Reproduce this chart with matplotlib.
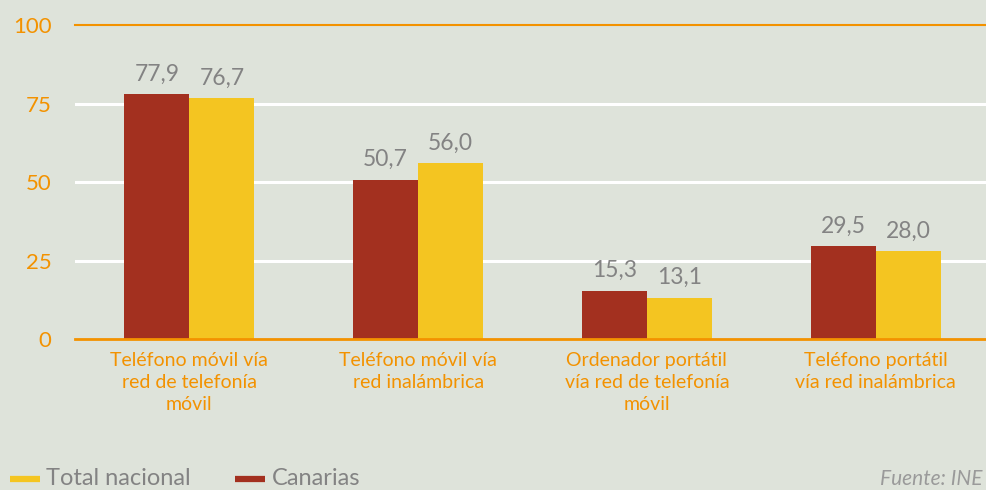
import matplotlib
matplotlib.use("Agg")
import matplotlib.pyplot as plt
from matplotlib.lines import Line2D
import numpy as np

categories = ["Teléfono móvil vía\nred de telefonía\nmóvil",
              "Teléfono móvil vía\nred inalámbrica",
              "Ordenador portátil\nvía red de telefonía\nmóvil",
              "Teléfono portátil\nvía red inalámbrica"]
canarias = [77.9, 50.7, 15.3, 29.5]
total_nacional = [76.7, 56.0, 13.1, 28.0]
yticks = [0, 25, 50, 75, 100]
series_names = ["Total nacional", "Canarias"]

BG = "#DEE3DA"
RED = "#A3301F"
YEL = "#F4C521"
ORANGE = "#F39200"
GRAY = "#838383"

plt.rcParams['font.family'] = ['Lato', 'DejaVu Sans']

fig = plt.figure(figsize=(9.86, 4.9), dpi=100, facecolor=BG)
ax = fig.add_axes([0.0761, 0.308, 0.928, 0.641], facecolor=BG)

x = np.arange(len(categories))
w = 0.284
b1 = ax.bar(x - w/2, canarias, w, color=RED, zorder=3)
b2 = ax.bar(x + w/2, total_nacional, w, color=YEL, zorder=3)

for bars, vals in ((b1, canarias), (b2, total_nacional)):
    for r, v in zip(bars, vals):
        ax.annotate(f"{v:.1f}".replace(".", ","),
                    (r.get_x() + r.get_width()/2, r.get_height()),
                    xytext=(0, 7), textcoords="offset points",
                    ha="center", va="bottom", color=GRAY, fontsize=16.5)

ax.set_xlim(-0.5, len(categories) - 0.5)
ax.set_ylim(0, 100)
ax.set_yticks(yticks)
ax.set_yticklabels([str(t) for t in yticks], color=ORANGE, fontsize=16)
ax.set_xticks(x)
ax.set_xticklabels(categories, color=ORANGE, fontsize=14, linespacing=1.38)
ax.tick_params(length=0)
ax.tick_params(axis='x', pad=9)
ax.tick_params(axis='y', pad=17)

for s in ax.spines.values():
    s.set_visible(False)
for t in yticks[1:-1]:
    ax.axhline(t, color="white", lw=2.2, zorder=1)
ax.axhline(100, color=ORANGE, lw=1.5, zorder=1, clip_on=False)
ax.axhline(0, color=ORANGE, lw=2, zorder=4, clip_on=False)

# legend drawn manually
W, H = 986.0, 490.0
for (x0, x1, tx), col, name in zip([(10, 40, 46), (235, 265, 272)], [YEL, RED], series_names):
    fig.add_artist(Line2D([x0 / W, x1 / W], [1 - 479 / H] * 2, color=col, lw=4.5,
                          solid_capstyle='butt', transform=fig.transFigure))
    fig.text(tx / W, 1.5 / H, name, color=GRAY, fontsize=17,
             ha="left", va="bottom")

fig.text(880 / W, 1.5 / H, "Fuente: INE", color="#9a9a9a", fontsize=15,
         style="italic", ha="left", va="bottom")

fig.savefig("out.png", dpi=100, facecolor=BG)
